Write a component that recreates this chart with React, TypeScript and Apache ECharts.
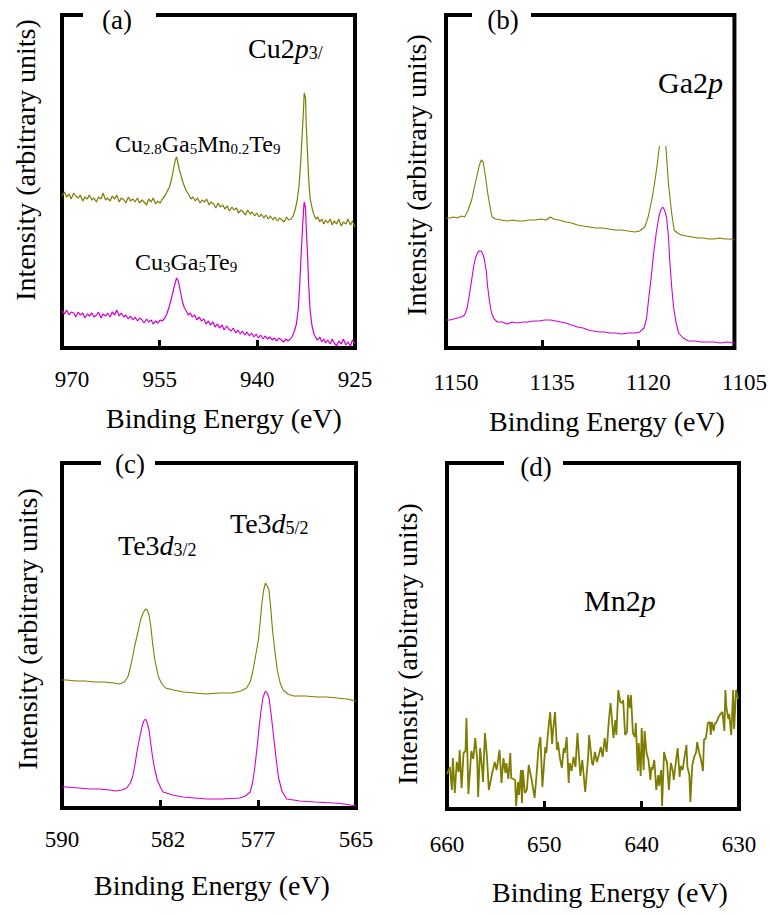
import React, { useEffect, useRef } from "react";
import * as echarts from "echarts";

const FONT = "Liberation Serif";
const OLIVE = "#7f7d00";
const MAGENTA = "#d000d0";

// ---------- panel (a) Cu2p ----------
const aLabelValues = [970, 955, 940, 925];
const aTickValues = [955, 940];
const aMnDoped: [number, number][] = [
  [970, 152], [969.6, 156], [969.3, 151], [968.9, 154], [968.6, 149], [968.2, 155], [967.9, 152], [967.5, 150],
  [967.2, 153], [966.8, 147], [966.5, 151], [966.1, 149], [965.8, 153], [965.4, 148], [965.1, 150], [964.7, 146],
  [964.4, 151], [964, 149], [963.7, 155], [963.3, 148], [963, 150], [962.6, 147], [962.3, 152], [961.9, 149],
  [961.6, 153], [961.2, 146], [960.9, 150], [960.5, 148], [960.2, 145], [959.8, 151], [959.5, 147], [959.1, 149],
  [958.8, 146], [958.4, 150], [958.1, 145], [957.7, 148], [957.4, 146], [957, 143], [956.7, 149], [956.3, 146],
  [956, 150], [955.6, 144], [955.3, 147], [954.9, 145], [954.6, 149], [954.2, 152], [953.9, 156], [953.5, 161],
  [953.2, 168], [952.9, 178], [952.6, 188], [952.4, 191], [952.2, 185], [952, 179], [951.7, 172], [951.4, 165],
  [951.1, 160], [950.8, 156], [950.5, 153], [950.2, 149], [949.9, 151], [949.5, 147], [949.2, 150], [948.8, 145],
  [948.5, 148], [948.1, 146], [947.8, 149], [947.4, 143], [947.1, 146], [946.7, 144], [946.4, 140], [946, 145],
  [945.7, 141], [945.3, 143], [945, 139], [944.6, 142], [944.3, 137], [943.9, 141], [943.6, 138], [943.2, 140],
  [942.9, 135], [942.5, 138], [942.2, 136], [941.8, 133], [941.5, 138], [941.1, 134], [940.8, 136], [940.4, 132],
  [940.1, 135], [939.7, 131], [939.4, 134], [939, 130], [938.7, 133], [938.3, 129], [938, 132], [937.6, 128],
  [937.3, 131], [936.9, 127], [936.6, 130], [936.2, 128], [935.9, 126], [935.5, 131], [935.2, 128], [934.8, 129],
  [934.5, 132], [934.2, 138], [933.9, 147], [933.6, 162], [933.3, 190], [933.1, 215], [932.9, 240], [932.8, 255],
  [932.6, 250], [932.5, 225], [932.3, 195], [932.1, 168], [931.9, 150], [931.6, 140], [931.3, 133], [931, 129],
  [930.7, 131], [930.4, 126], [930.1, 129], [929.8, 124], [929.5, 128], [929.2, 125], [928.8, 129], [928.5, 123],
  [928.2, 127], [927.8, 124], [927.5, 129], [927.1, 122], [926.8, 126], [926.4, 124], [926.1, 129], [925.7, 123],
  [925.4, 127], [925, 121],
];
const aPure: [number, number][] = [
  [970, 37], [969.6, 34], [969.3, 38], [968.9, 33], [968.6, 36], [968.2, 35], [967.9, 31], [967.5, 36],
  [967.2, 33], [966.8, 35], [966.5, 30], [966.1, 34], [965.8, 32], [965.4, 35], [965.1, 31], [964.7, 33],
  [964.4, 36], [964, 30], [963.7, 34], [963.3, 32], [963, 35], [962.6, 31], [962.3, 36], [961.9, 33],
  [961.6, 38], [961.2, 32], [960.9, 35], [960.5, 31], [960.2, 33], [959.8, 29], [959.5, 32], [959.1, 28],
  [958.8, 31], [958.4, 27], [958.1, 30], [957.7, 28], [957.4, 25], [957, 29], [956.7, 26], [956.3, 28],
  [956, 24], [955.6, 27], [955.3, 25], [954.9, 28], [954.6, 27], [954.2, 30], [953.9, 34], [953.6, 40],
  [953.3, 47], [953, 55], [952.7, 63], [952.4, 70], [952.2, 68], [952, 63], [951.8, 56], [951.5, 46],
  [951.2, 40], [950.9, 37], [950.6, 33], [950.3, 35], [950, 31], [949.6, 33], [949.3, 28], [948.9, 31],
  [948.6, 27], [948.2, 29], [947.9, 24], [947.5, 27], [947.2, 23], [946.8, 26], [946.5, 21], [946.1, 24],
  [945.8, 20], [945.4, 23], [945.1, 18], [944.7, 22], [944.4, 19], [944, 17], [943.7, 20], [943.3, 15],
  [943, 18], [942.6, 14], [942.3, 17], [941.9, 13], [941.6, 16], [941.2, 12], [940.9, 15], [940.5, 11],
  [940.2, 14], [939.8, 10], [939.5, 13], [939.1, 9], [938.8, 12], [938.4, 9], [938.1, 11], [937.7, 8],
  [937.4, 10], [937, 7], [936.7, 10], [936.3, 8], [936, 6], [935.6, 9], [935.3, 7], [934.9, 9],
  [934.6, 12], [934.3, 17], [934, 24], [933.7, 40], [933.5, 62], [933.3, 90], [933.1, 115], [932.9, 138],
  [932.8, 146], [932.6, 140], [932.5, 122], [932.3, 95], [932.1, 62], [931.9, 38], [931.6, 22], [931.3, 14],
  [931, 10], [930.7, 8], [930.4, 11], [930.1, 6], [929.8, 9], [929.5, 5], [929.2, 8], [928.8, 4],
  [928.5, 9], [928.2, 5], [927.8, 2], [927.5, 7], [927.1, 4], [926.8, 9], [926.4, 3], [926.1, 6],
  [925.7, 2], [925.4, 8], [925, 4],
];

// ---------- panel (b) Ga2p ----------
const bLabelValues = [1150, 1135, 1120, 1105];
const bTickValues = [1135, 1120];
const bMnDoped: [number, number | null][] = [
  [1150, 130], [1149.4, 130], [1148.8, 131], [1148.2, 130], [1147.6, 132], [1147.1, 131], [1146.6, 137],
  [1146, 148], [1145.6, 160], [1145.2, 171], [1144.8, 183], [1144.5, 188], [1144.2, 186], [1144, 178],
  [1143.7, 165], [1143.5, 155], [1143.1, 140], [1142.8, 131], [1142.3, 129], [1141.4, 128], [1140.5, 127],
  [1139.6, 128], [1138.7, 127], [1137.9, 127], [1137, 128], [1136.1, 128], [1135.2, 129], [1134.4, 128],
  [1133.7, 131], [1133.2, 129], [1132.4, 128], [1131.3, 126], [1130.4, 125], [1129.5, 123], [1128.6, 122],
  [1127.6, 121], [1126.6, 120], [1125.6, 120], [1124.6, 119], [1123.6, 118], [1122.6, 118], [1121.6, 117],
  [1120.5, 116], [1119.8, 117], [1119, 121], [1118.5, 130], [1117.9, 148], [1117.5, 163], [1117.1, 181],
  [1116.7, 202], [1116.2, null], [1115.7, 202], [1115.3, 165], [1114.8, 135], [1114.4, 118], [1113.9, 115],
  [1113.3, 113], [1112.5, 112], [1111.6, 111], [1110.7, 110], [1109.9, 110], [1109, 109], [1108.2, 109],
  [1107.3, 110], [1106.5, 109], [1105.6, 109], [1105, 108],
];
const bPure: [number, number][] = [
  [1150, 28], [1149.4, 28], [1148.8, 29], [1148.2, 30], [1147.6, 31], [1147.1, 33], [1146.7, 40],
  [1146.3, 55], [1146, 68], [1145.7, 81], [1145.4, 90], [1145.1, 95], [1144.8, 97], [1144.5, 97],
  [1144.2, 93], [1144, 88], [1143.7, 76], [1143.5, 61], [1143.2, 46], [1142.9, 35], [1142.5, 29],
  [1142, 26], [1141.2, 26], [1140.5, 24], [1139.7, 26], [1138.9, 25], [1138, 26], [1137.2, 26],
  [1136.3, 27], [1135.5, 27], [1134.6, 28], [1133.7, 28], [1132.9, 27], [1132.1, 26], [1131.3, 25],
  [1130.4, 23], [1129.5, 21], [1128.6, 20], [1127.8, 18], [1127, 17], [1126, 16], [1125.2, 16],
  [1124.4, 15], [1123.6, 15], [1122.6, 14], [1121.6, 15], [1120.5, 15], [1119.8, 16], [1119.1, 20],
  [1118.7, 30], [1118.4, 48], [1118, 70], [1117.6, 95], [1117.2, 115], [1116.8, 131], [1116.5, 138],
  [1116.2, 141], [1115.9, 138], [1115.6, 131], [1115.3, 112], [1115.1, 88], [1114.8, 62], [1114.5, 41],
  [1114.1, 25], [1113.7, 15], [1113, 10], [1112.2, 7], [1111.2, 7], [1110.2, 6], [1109.2, 6],
  [1108.2, 6], [1107.2, 5], [1106.2, 6], [1105, 5],
];

// ---------- panel (c) Te3d ----------
const cLabelValues = [590, 581.67, 573.33, 565];
const cLabelTexts = ["590", "582", "577", "565"];
const cTickValues = [581.67, 573.33];
const cMnDoped: [number, number][] = [
  [590, 128], [589.6, 128], [588.8, 127], [588, 127], [587.2, 126], [586.4, 126], [585.6, 125], [585.1, 124],
  [584.7, 126], [584.4, 131], [584.2, 140], [584, 151], [583.8, 163], [583.5, 178], [583.3, 189], [583.1, 195],
  [582.9, 199], [582.75, 198], [582.6, 193], [582.45, 182], [582.3, 165], [582.1, 148], [581.8, 131], [581.5, 124],
  [581.2, 120], [580.5, 118], [579.7, 116], [578.7, 115], [577.7, 114], [576.6, 115], [575.5, 115], [574.8, 117],
  [574.3, 120], [574, 126], [573.8, 135], [573.6, 148], [573.3, 168], [573.15, 186], [573, 205], [572.85, 218],
  [572.7, 225], [572.55, 222], [572.4, 218], [572.25, 200], [572.1, 178], [571.9, 157], [571.7, 138], [571.45, 125],
  [571.2, 118], [570.8, 114], [570.3, 112], [569.3, 112], [568.3, 111], [567.5, 111], [566.6, 110], [565.8, 109],
  [565, 107],
];
const cPure: [number, number][] = [
  [590, 21], [589.6, 21], [588.6, 20], [587.6, 19], [586.8, 19], [586, 18], [585.4, 17], [584.9, 18],
  [584.5, 20], [584.2, 25], [584, 31], [583.8, 43], [583.6, 58], [583.4, 70], [583.2, 81], [583.05, 87],
  [582.9, 89], [582.75, 85], [582.6, 78], [582.45, 64], [582.3, 51], [582.1, 38], [581.9, 28], [581.6, 20],
  [581.4, 16], [580.6, 13], [579.7, 11], [578.7, 10], [577.7, 9], [576.4, 9], [574.9, 10], [574.4, 12],
  [574, 16], [573.8, 25], [573.6, 41], [573.4, 62], [573.2, 85], [573.05, 100], [572.9, 111], [572.7, 117],
  [572.55, 115], [572.4, 110], [572.2, 92], [572, 71], [571.8, 50], [571.6, 31], [571.3, 17], [570.9, 9],
  [570.3, 8], [569.8, 7], [568.5, 6], [566.9, 5], [566, 4], [565, 2],
];

// ---------- panel (d) Mn2p ----------
const dLabelValues = [660, 650, 640, 630];
const dTickValues = [650, 640];
const dMnDoped: [number, number][] = [
  [660, 35], [659.7, 42], [659.5, 19], [659.4, 51], [659.2, 16], [659, 47], [658.8, 37], [658.7, 59], [658.5, 21],
  [658.3, 56], [658.1, 58], [658, 91], [657.8, 15], [657.5, 58], [657.3, 50], [657.1, 71], [656.9, 50],
  [656.8, 12], [656.6, 61], [656.4, 41], [656.3, 27], [656.1, 76], [655.9, 53], [655.7, 19], [655.4, 34],
  [655.1, 47], [654.9, 39], [654.6, 59], [654.4, 26], [654.2, 51], [654, 36], [653.9, 46], [653.7, 30],
  [653.5, 56], [653.4, 31], [653, 29], [652.9, 3], [652.7, 27], [652.6, 14], [652.4, 39], [652.3, 6],
  [652.2, 39], [652, 16], [651.8, 19], [651.6, 44], [651.3, 29], [651, 11], [650.8, 34], [650.6, 61],
  [650.4, 72], [650.2, 22], [649.9, 62], [649.8, 56], [649.6, 79], [649.4, 97], [649.2, 65], [649.1, 79],
  [648.9, 97], [648.7, 59], [648.6, 67], [648.4, 51], [648.2, 41], [648, 61], [647.9, 56], [647.7, 72],
  [647.5, 26], [647.4, 46], [647.2, 38], [647, 52], [646.8, 42], [646.6, 76], [646.3, 33], [646.1, 49],
  [645.8, 17], [645.5, 52], [645.4, 74], [645.1, 46], [645, 44], [644.8, 57], [644.6, 47], [644.4, 54],
  [644.2, 62], [644, 52], [643.8, 71], [643.6, 57], [643.4, 85], [643.2, 106], [643.1, 96], [642.9, 71],
  [642.7, 89], [642.6, 74], [642.4, 119], [642.2, 107], [642, 106], [641.9, 109], [641.7, 74], [641.5, 77],
  [641.4, 114], [641.2, 101], [641.1, 114], [640.9, 76], [640.7, 72], [640.6, 86], [640.4, 38], [640.3, 66],
  [640.1, 33], [640, 81], [639.8, 39], [639.7, 78], [639.5, 56], [639.3, 49], [639.1, 29], [639, 42],
  [638.9, 39], [638.7, 49], [638.5, 19], [638.3, 34], [638.2, 23], [638, 39], [637.9, 3], [637.7, 57],
  [637.5, 49], [637.4, 47], [637.2, 19], [637, 46], [636.8, 38], [636.7, 29], [636.5, 46], [636.3, 61],
  [636.1, 32], [636, 43], [635.8, 39], [635.6, 52], [635.4, 64], [635.3, 42], [635.1, 34], [635, 7],
  [634.8, 44], [634.6, 52], [634.4, 57], [634.3, 67], [634.1, 57], [633.9, 49], [633.7, 38], [633.6, 69],
  [633.4, 71], [633.2, 86], [633, 87], [632.9, 74], [632.8, 87], [632.6, 78], [632.5, 85], [632.3, 87],
  [632.1, 92], [631.9, 95], [631.7, 97], [631.5, 78], [631.4, 119], [631.3, 102], [631.1, 90], [631, 95],
  [630.8, 74], [630.7, 95], [630.6, 119], [630.5, 80], [630.3, 119], [630.1, 110],
];

const X_TITLE = "Binding Energy (eV)";
const Y_TITLE = "Intensity (arbitrary units)";

// layout of the four frames: [left, top, width, height]
const frames = [
  [62, 15, 293, 333],
  [446, 15, 293, 333],
  [62, 463, 294, 345],
  [447, 463, 292, 346],
];

function tok(size: number, extra: any = {}) {
  return { fontFamily: FONT, fontSize: size, lineHeight: size, fill: "#000", color: "#000", ...extra };
}

function rich(main: number, sub: number) {
  return {
    n: tok(main),
    i: tok(main, { fontStyle: "italic" }),
    s: tok(sub, { lineHeight: 12, verticalAlign: "bottom" }),
  };
}

function richText(x: number, y: number, text: string, main: number, sub: number) {
  return {
    type: "text",
    x,
    y,
    z: 100,
    style: { text, rich: rich(main, sub), fill: "#000", fontFamily: FONT, fontSize: main, align: "left", verticalAlign: "middle" },
  };
}

function plainText(x: number, y: number, text: string, size: number, rotation = 0) {
  return {
    type: "text",
    x,
    y,
    rotation,
    z: 100,
    style: {
      text: `{n|${text}}`,
      rich: { n: tok(size) },
      fill: "#000",
      fontFamily: FONT,
      fontSize: size,
      align: "center",
      verticalAlign: "middle",
    },
  };
}

function gapRect(x1: number, x2: number, y: number) {
  return { type: "rect", z: 90, shape: { x: x1, y: y - 4, width: x2 - x1, height: 8 }, style: { fill: "#fff" } };
}

export default function App() {
  const ref = useRef<HTMLDivElement>(null);
  useEffect(() => {
    document.body.style.margin = "0";
    const chart = echarts.init(ref.current!, undefined, { renderer: "svg" });

    const LS = 23;
    const mkX = (gi: number, min: number, max: number, labels: number[], ticks: number[], margin: number,
      text: (v: number) => string, shifted: (v: number) => boolean, shift: number) => ({
      gridIndex: gi,
      type: "value",
      min,
      max,
      inverse: true,
      axisLine: { show: false },
      splitLine: { show: false },
      axisTick: { show: true, inside: true, length: 8, lineStyle: { width: 3, color: "#000" }, customValues: ticks },
      axisLabel: {
        fontFamily: FONT,
        fontSize: LS,
        color: "#000",
        margin,
        customValues: labels,
        showMinLabel: true,
        showMaxLabel: true,
        hideOverlap: false,
        formatter: (v: number) => (shifted(v) ? `{f|${text(v)}}` : `{n|${text(v)}}`),
        rich: {
          n: { fontFamily: FONT, fontSize: LS, color: "#000" },
          f: { fontFamily: FONT, fontSize: LS, color: "#000", padding: [0, 0, 0, shift] },
        },
      },
    });
    const cText = (v: number) => {
      let k = 0;
      cLabelValues.forEach((c, i) => { if (Math.abs(c - v) < Math.abs(cLabelValues[k] - v)) k = i; });
      return cLabelTexts[k];
    };

    const option: any = {
      animation: false,
      backgroundColor: "#fff",
      textStyle: { fontFamily: FONT },
      grid: frames.map(([left, top, width, height]) => ({
        left, top, width, height,
        show: true,
        borderColor: "#000",
        borderWidth: 4,
        backgroundColor: "transparent",
      })),
      xAxis: [
        mkX(0, 925, 970, aLabelValues, aTickValues, 20, (v) => `${v}`, (v) => v === 970, 20),
        mkX(1, 1105, 1150, bLabelValues, bTickValues, 23, (v) => `${v}`, () => true, 20),
        mkX(2, 565, 590, cLabelValues, cTickValues, 20, cText, (v) => cText(v) === "582", 16),
        mkX(3, 630, 660, dLabelValues, dTickValues, 24, (v) => `${v}`, () => false, 0),
      ],
      yAxis: frames.map((f, i) => ({ gridIndex: i, type: "value", min: 0, max: f[3], show: false })),
      series: [
        { type: "line", xAxisIndex: 0, yAxisIndex: 0, data: aMnDoped, showSymbol: false, lineStyle: { color: OLIVE, width: 1.2 } },
        { type: "line", xAxisIndex: 0, yAxisIndex: 0, data: aPure, showSymbol: false, lineStyle: { color: MAGENTA, width: 1.2 } },
        { type: "line", xAxisIndex: 1, yAxisIndex: 1, data: bMnDoped, showSymbol: false, connectNulls: false, lineStyle: { color: OLIVE, width: 1.1 } },
        { type: "line", xAxisIndex: 1, yAxisIndex: 1, data: bPure, showSymbol: false, lineStyle: { color: MAGENTA, width: 1.1 } },
        { type: "line", xAxisIndex: 2, yAxisIndex: 2, data: cMnDoped, showSymbol: false, lineStyle: { color: OLIVE, width: 1.1 } },
        { type: "line", xAxisIndex: 2, yAxisIndex: 2, data: cPure, showSymbol: false, lineStyle: { color: MAGENTA, width: 1.1 } },
        { type: "line", xAxisIndex: 3, yAxisIndex: 3, data: dMnDoped, showSymbol: false, lineStyle: { color: OLIVE, width: 1.8 } },
      ],
      graphic: [
        gapRect(83, 156, 15),
        gapRect(472, 531, 15),
        gapRect(101, 155, 463),
        gapRect(504, 563, 463),
        plainText(117, 20, "(a)", 27),
        plainText(503, 20, "(b)", 27),
        plainText(130, 464, "(c)", 27),
        plainText(536, 467, "(d)", 27),
        plainText(25, 160, Y_TITLE, 28, Math.PI / 2),
        plainText(416, 175, Y_TITLE, 28, Math.PI / 2),
        plainText(27, 629, Y_TITLE, 28, Math.PI / 2),
        plainText(407, 644, Y_TITLE, 28, Math.PI / 2),
        plainText(224, 418, X_TITLE, 28),
        plainText(607, 421, X_TITLE, 28),
        plainText(212, 885, X_TITLE, 28),
        plainText(610, 892, X_TITLE, 28),
        richText(248, 48, "{n|Cu2}{i|p}{s|3/}", 28, 18),
        richText(115, 144, "{n|Cu}{s|2.8}{n|Ga}{s|5}{n|Mn}{s|0.2}{n|Te}{s|9}", 24, 15),
        richText(135, 262, "{n|Cu}{s|3}{n|Ga}{s|5}{n|Te}{s|9}", 24, 15),
        richText(658, 82, "{n|Ga2}{i|p}", 30, 19),
        richText(118, 545, "{n|Te3}{i|d}{s|3/2}", 28, 18),
        richText(230, 523, "{n|Te3}{i|d}{s|5/2}", 28, 18),
        richText(584, 600, "{n|Mn2}{i|p}", 30, 19),
      ],
    };
    chart.setOption(option);
    return () => chart.dispose();
  }, []);
  return <div ref={ref} style={{ width: 770, height: 914 }} />;
}
